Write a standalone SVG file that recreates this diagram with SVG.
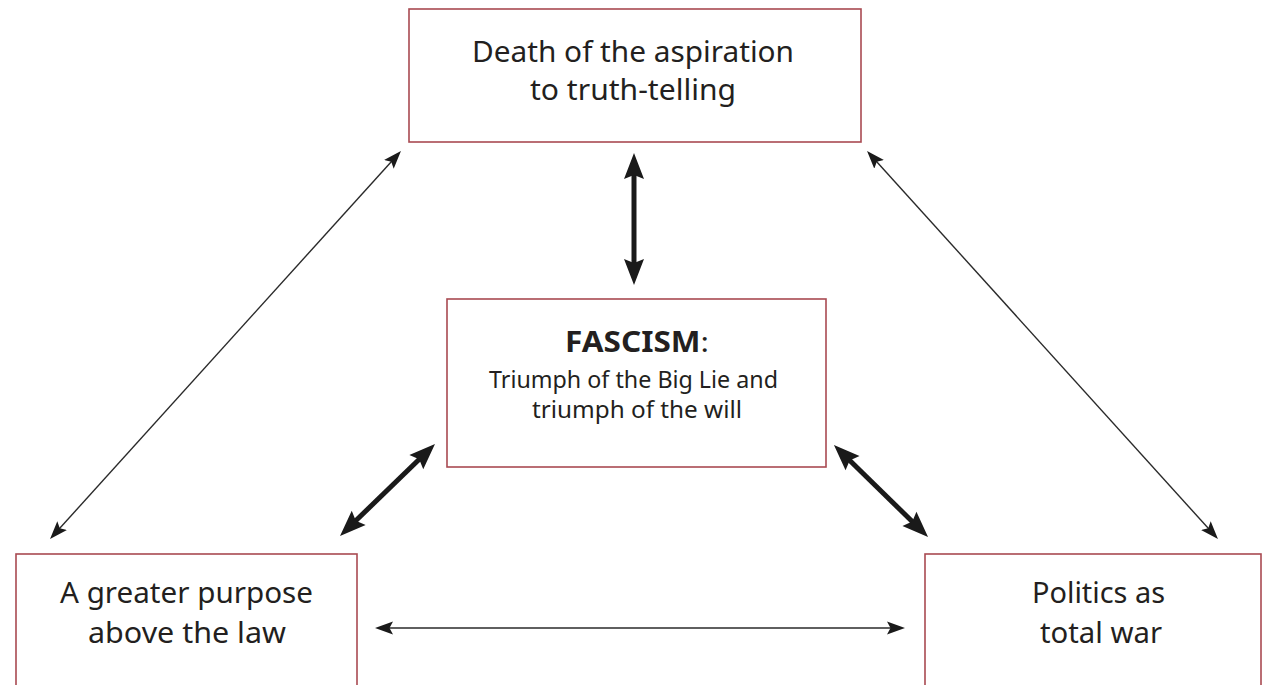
<svg xmlns="http://www.w3.org/2000/svg" width="1263" height="685" viewBox="0 0 1263 685">
<style>
  .box { fill: #ffffff; stroke: #a94a52; stroke-width: 1.6; }
  .t { font-family: "Noto Sans", "Open Sans", "Liberation Sans", sans-serif; fill: #231f20; text-anchor: middle; }
  .big { font-size: 28.5px; }
  .mid { font-size: 24px; }
  .bold { font-weight: bold; }
  .thick { stroke: #1a1a1a; stroke-width: 5; fill: none; }
  .thin { stroke: #2a2a2a; stroke-width: 1.4; fill: none; }
</style>
<defs>
  <marker id="headThick" markerUnits="userSpaceOnUse" markerWidth="30" markerHeight="24" viewBox="0 -12 28 24" refX="16" refY="0" orient="auto-start-reverse">
    <path d="M0,-10 L26,0 L0,10 L4,0 z" fill="#1a1a1a"/>
  </marker>
  <marker id="headThin" markerUnits="userSpaceOnUse" markerWidth="20" markerHeight="16" viewBox="0 -8 20 16" refX="13" refY="0" orient="auto-start-reverse">
    <path d="M0,-6.5 L18,0 L0,6.5 L3.5,0 z" fill="#1a1a1a"/>
  </marker>
</defs>
<rect width="1263" height="685" fill="#ffffff"/>

<g id="connectors">
  <line class="thick" x1="634" y1="163" x2="634" y2="275" marker-start="url(#headThick)" marker-end="url(#headThick)"/>
  <line class="thick" x1="427.8" y1="451" x2="347.2" y2="529" marker-start="url(#headThick)" marker-end="url(#headThick)"/>
  <line class="thick" x1="841.1" y1="452" x2="920.9" y2="530" marker-start="url(#headThick)" marker-end="url(#headThick)"/>
  <line class="thin" x1="397.6" y1="154.7" x2="53.4" y2="535.3" marker-start="url(#headThin)" marker-end="url(#headThin)"/>
  <line class="thin" x1="870.4" y1="154.7" x2="1214.6" y2="535.3" marker-start="url(#headThin)" marker-end="url(#headThin)"/>
  <line class="thin" x1="380" y1="628" x2="900" y2="628" marker-start="url(#headThin)" marker-end="url(#headThin)"/>
</g>

<g id="node-death">
  <rect class="box" x="409" y="9" width="452" height="133"/>
  <text class="t big" x="633" y="62" textLength="322" lengthAdjust="spacingAndGlyphs">Death of the aspiration</text>
  <text class="t big" x="633" y="100" textLength="206" lengthAdjust="spacingAndGlyphs">to truth-telling</text>
</g>

<g id="node-fascism">
  <rect class="box" x="447" y="299" width="379" height="168"/>
  <text class="t" x="637" y="352" font-size="28" textLength="144" lengthAdjust="spacingAndGlyphs"><tspan class="bold">FASCISM</tspan>:</text>
  <text class="t mid" x="633.5" y="388" textLength="289" lengthAdjust="spacingAndGlyphs">Triumph of the Big Lie and</text>
  <text class="t mid" x="637" y="418" textLength="210" lengthAdjust="spacingAndGlyphs">triumph of the will</text>
</g>

<g id="node-purpose">
  <rect class="box" x="16" y="554" width="341" height="140"/>
  <text class="t big" x="186.5" y="603" textLength="253" lengthAdjust="spacingAndGlyphs">A greater purpose</text>
  <text class="t big" x="187" y="643" textLength="198" lengthAdjust="spacingAndGlyphs">above the law</text>
</g>

<g id="node-politics">
  <rect class="box" x="925" y="554" width="336" height="140"/>
  <text class="t big" x="1098.5" y="603" textLength="133" lengthAdjust="spacingAndGlyphs">Politics as</text>
  <text class="t big" x="1101" y="643" textLength="122" lengthAdjust="spacingAndGlyphs">total war</text>
</g>
</svg>
